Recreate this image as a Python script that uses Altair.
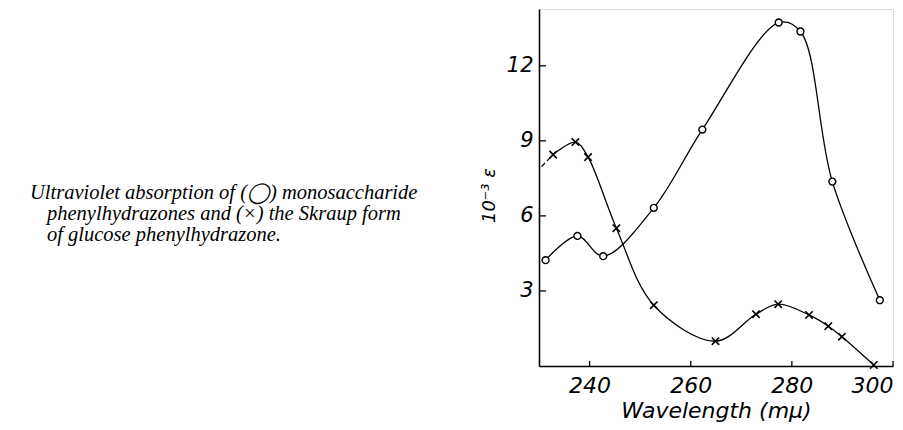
import altair as alt
import pandas as pd

# Open circles: monosaccharide phenylhydrazones
circ_x = [231.3, 237.6, 242.7, 252.7, 262.3, 277.4, 281.7, 288.0, 297.4]
circ_y = [4.23, 5.20, 4.39, 6.32, 9.45, 13.73, 13.37, 7.37, 2.63]

# Crosses: Skraup form of glucose phenylhydrazone
cross_x = [232.8, 237.2, 239.7, 245.3, 252.7, 264.9, 272.9, 277.3, 283.4, 287.2, 289.9, 296.2]
cross_y = [8.45, 8.95, 8.35, 5.51, 2.43, 0.99, 2.07, 2.47, 2.04, 1.59, 1.17, 0.04]

# dashed lead-in of the cross curve
lead_x = [230.5, 232.8]
lead_y = [7.97, 8.45]

x_ticks = [240, 260, 280, 300]
y_ticks = [3, 6, 9, 12]

caption = [
    "Ultraviolet absorption of (\u25EF) monosaccharide",
    "phenylhydrazones and (\u00D7) the Skraup form",
    "of glucose phenylhydrazone.",
]

circ = pd.DataFrame({"w": circ_x, "e": circ_y})
cross = pd.DataFrame({"w": cross_x, "e": cross_y})
lead = pd.DataFrame({"w": lead_x, "e": lead_y})
xtd = pd.DataFrame({"w": x_ticks})
ytd = pd.DataFrame({"e": y_ticks})

xs = alt.Scale(domain=[230, 300], nice=False, zero=False)
ys = alt.Scale(domain=[0, 14.27], nice=False, zero=False)

FONT = "DejaVu Sans"

x_axis = alt.Axis(values=x_ticks, title="Wavelength (m\u03BC)", ticks=False, grid=False,
                  labelFont=FONT, labelFontStyle="italic", labelFontSize=22, labelPadding=9,
                  titleFont=FONT, titleFontStyle="italic", titleFontSize=22, titleFontWeight="normal",
                  titlePadding=4, domainColor="black", domainWidth=1.6, labelColor="black",
                  titleColor="black")
y_axis = alt.Axis(values=y_ticks, title="10\u207B\u00B3 \u03B5", ticks=False, grid=False,
                  labelFont=FONT, labelFontStyle="italic", labelFontSize=21, labelPadding=6,
                  titleFont=FONT, titleFontStyle="italic", titleFontSize=18, titleFontWeight="normal",
                  titlePadding=8, domainColor="black", domainWidth=1.6, labelColor="black",
                  titleColor="black", titleY=186)

X = alt.X("w:Q", scale=xs, axis=x_axis)
Y = alt.Y("e:Q", scale=ys, axis=y_axis)

circ_line = alt.Chart(circ).mark_line(interpolate="catmull-rom", color="black", strokeWidth=1.3).encode(x=X, y=Y)
circ_pts = alt.Chart(circ).mark_point(shape="circle", filled=True, fill="white", stroke="black",
                                       strokeWidth=1.4, size=48, opacity=1).encode(x=X, y=Y)
cross_line = alt.Chart(cross).mark_line(interpolate="catmull-rom", color="black", strokeWidth=1.3).encode(x=X, y=Y)
lead_line = alt.Chart(lead).mark_line(color="black", strokeWidth=1.3, strokeDash=[5, 3]).encode(x=X, y=Y)
cross_pts = alt.Chart(cross).mark_point(shape="M-1,-1L1,1M1,-1L-1,1", filled=False, stroke="black",
                                         strokeWidth=1.6, size=55, opacity=1).encode(x=X, y=Y)

xt = alt.Chart(xtd).mark_rule(color="black", strokeWidth=1.3).encode(
    x=X, y=alt.value(357), y2=alt.value(352)
)
yt = alt.Chart(ytd).mark_rule(color="black", strokeWidth=1.3).encode(
    y=Y, x=alt.value(0), x2=alt.value(7)
)

cap_layers = []
cap_pos = [(-509, 184), (-492, 205), (-492, 226)]
for line, (px, py) in zip(caption, cap_pos):
    cap_layers.append(
        alt.Chart(pd.DataFrame({"c": [line]})).mark_text(
            font="Liberation Serif", fontStyle="italic", fontSize=20.5, align="left",
            baseline="middle", color="black"
        ).encode(text="c:N", x=alt.value(px), y=alt.value(py))
    )

chart = alt.layer(circ_line, cross_line, lead_line, circ_pts, cross_pts, xt, yt, *cap_layers).properties(
    width=354, height=357,
    padding={"left": 531, "top": 1, "right": 2, "bottom": 56},
    autosize=alt.AutoSizeParams(type="none"),
).configure_view(strokeWidth=0).configure(background="white")

chart.save("out.html", embed_options={"renderer": "svg", "actions": False})
